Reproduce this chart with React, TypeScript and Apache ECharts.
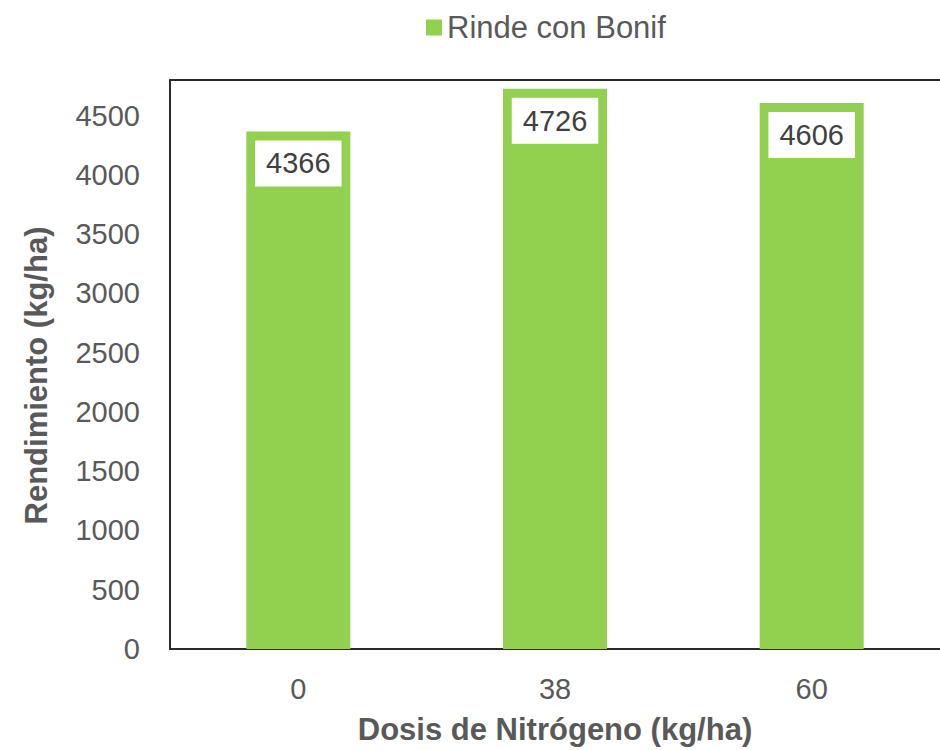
import React, { useEffect, useRef } from "react";
import * as echarts from "echarts";

const categories = ["0", "38", "60"];
const rindeConBonif = [4366, 4726, 4606];
const seriesName = "Rinde con Bonif";
const xTitle = "Dosis de Nitrógeno (kg/ha)";
const yTitle = "Rendimiento (kg/ha)";

const FONT = "'Liberation Sans', Arial, sans-serif";
const LINE = "#2b2b2b";

export default function App() {
  const ref = useRef<HTMLDivElement>(null);
  useEffect(() => {
    if (!ref.current) return;
    const chart = echarts.init(ref.current, undefined, { renderer: "svg" });
    chart.setOption({
      animation: false,
      backgroundColor: "#ffffff",
      textStyle: { fontFamily: FONT },
      legend: {
        data: [seriesName],
        left: 421,
        top: 7,
        itemWidth: 16,
        itemHeight: 16,
        itemGap: 10,
        icon: "rect",
        textStyle: { fontSize: 31, color: "#595959", fontFamily: FONT, lineHeight: 31 },
      },
      grid: {
        show: false,
        left: 170,
        right: -6,
        top: 80,
        bottom: 100,
        containLabel: false,
      },
      xAxis: [
        {
          type: "category",
          data: categories,
          position: "bottom",
          name: xTitle,
          nameLocation: "middle",
          nameGap: 65,
          nameTextStyle: { fontSize: 31, fontWeight: "bold", color: "#595959", fontFamily: FONT },
          axisLine: { show: true, lineStyle: { color: LINE, width: 2 } },
          axisTick: { show: false },
          axisLabel: { fontSize: 29, color: "#595959", margin: 25, fontFamily: FONT },
        },
        {
          type: "category",
          data: categories,
          position: "top",
          axisLine: { show: true, onZero: false, lineStyle: { color: LINE, width: 2 } },
          axisTick: { show: false },
          axisLabel: { show: false },
        },
      ],
      yAxis: {
        type: "value",
        min: 0,
        max: 4800,
        interval: 500,
        name: yTitle,
        nameLocation: "middle",
        nameGap: 118,
        nameRotate: 90,
        nameTextStyle: {
          fontSize: 31,
          fontWeight: "bold",
          color: "#595959",
          fontFamily: FONT,
          padding: [0, 22, 0, 0],
        },
        axisLine: { show: true, lineStyle: { color: LINE, width: 2 } },
        axisTick: { show: false },
        splitLine: { show: false },
        axisLabel: {
          fontSize: 29,
          color: "#595959",
          margin: 30,
          showMaxLabel: false,
          fontFamily: FONT,
          formatter: (v: number) => String(v),
        },
      },
      series: [
        {
          name: seriesName,
          type: "bar",
          data: rindeConBonif,
          barWidth: 104,
          itemStyle: { color: "#92d050" },
          label: {
            show: true,
            position: "insideTop",
            distance: 9,
            backgroundColor: "#ffffff",
            padding: [8, 11, 8, 11],
            fontSize: 29,
            lineHeight: 30,
            color: "#404040",
            fontFamily: FONT,
          },
        },
      ],
    });
    return () => chart.dispose();
  }, []);
  return (
    <div
      ref={ref}
      style={{ position: "absolute", left: 0, top: 0, width: 940, height: 750 }}
    />
  );
}
